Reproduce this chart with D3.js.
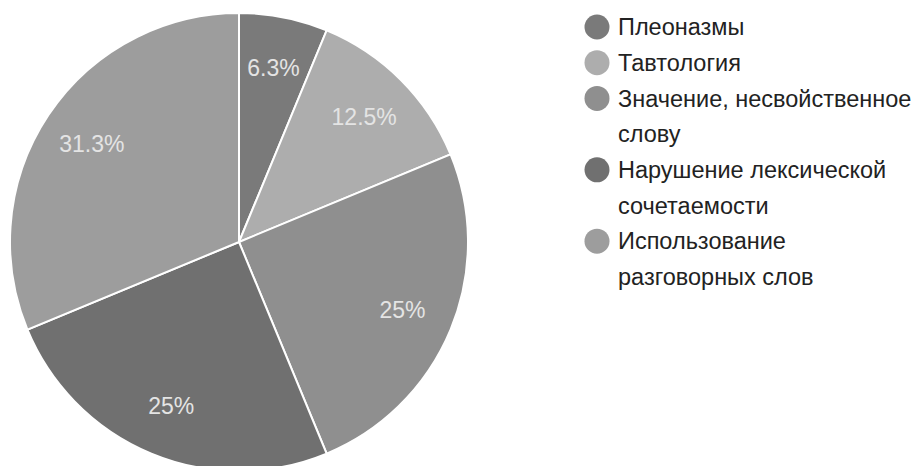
<!DOCTYPE html>
<html><head><meta charset="utf-8">
<script src="https://cdn.jsdelivr.net/npm/d3@7"></script>
<style>body{margin:0;background:#fff;}svg{display:block;}</style>
</head><body>
<svg id="c" width="920" height="466"></svg>
<script>
const categories = ["Плеоназмы","Тавтология","Значение, несвойственное слову","Нарушение лексической сочетаемости","Использование разговорных слов"];
const values = [1, 2, 4, 4, 5];
const percentLabels = ["6.3%","12.5%","25%","25%","31.3%"];
const legendLines = [["Плеоназмы"],["Тавтология"],["Значение, несвойственное","слову"],["Нарушение лексической","сочетаемости"],["Использование","разговорных слов"]];
const colors = ["#7a7a7a","#adadad","#8f8f8f","#707070","#9d9d9d"];

const svg = d3.select("#c");
const cx = 239, cy = 242, R = 229;
const pie = d3.pie().sort(null).value(d => d)(values);
const arc = d3.arc().innerRadius(0).outerRadius(R);
const labelArc = d3.arc().innerRadius(177).outerRadius(177);
const g = svg.append("g").attr("transform", `translate(${cx},${cy})`);
g.selectAll("path").data(pie).join("path")
  .attr("d", arc).attr("fill", (d,i) => colors[i])
  .attr("stroke", "#fff").attr("stroke-width", 2);
g.selectAll("text").data(pie).join("text")
  .attr("transform", d => `translate(${labelArc.centroid(d)})`)
  .attr("text-anchor", "middle").attr("dy", "0.35em")
  .attr("font-family", "Liberation Sans, Arial, sans-serif")
  .attr("font-size", 23).attr("fill", "#e4e4e4")
  .text((d,i) => percentLabels[i]);

const lg = svg.append("g");
const lineH = 35.7, y0 = 27, lx = 597, tx = 618;
let line = 0;
legendLines.forEach((lines, i) => {
  const y = y0 + line * lineH;
  lg.append("circle").attr("cx", lx).attr("cy", y).attr("r", 12.5).attr("fill", colors[i]);
  lines.forEach((t, j) => {
    lg.append("text").attr("x", tx).attr("y", y0 + (line + j) * lineH).attr("dy", "0.35em")
      .attr("font-family", "Liberation Sans, Arial, sans-serif").attr("font-size", 23.5)
      .attr("fill", "#222").text(t);
  });
  line += lines.length;
});
</script>
</body></html>
